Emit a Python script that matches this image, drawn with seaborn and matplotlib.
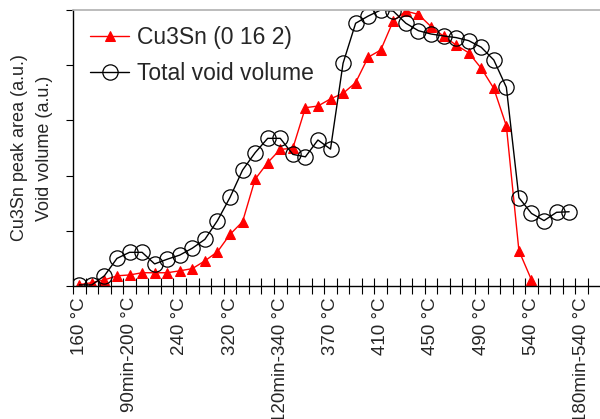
import numpy as np
import pandas as pd
import seaborn as sns
import matplotlib.pyplot as plt

# x axis: 41 temperature steps, only every 4th one is labelled
tick_labels = ["160 °C", "90min-200 °C", "240 °C", "320 °C", "120min-340 °C",
               "370 °C", "410 °C", "450 °C", "490 °C", "540 °C", "180min-540 °C"]
n_steps = 41

# Cu3Sn (0 16 2) peak area, normalised (a.u.)
cu3sn = [0.005, 0.012, 0.022, 0.037, 0.040, 0.048, 0.048, 0.048, 0.055, 0.063,
         0.091, 0.124, 0.187, 0.233, 0.387, 0.447, 0.495, 0.499, 0.646, 0.652,
         0.678, 0.698, 0.737, 0.829, 0.855, 0.961, 0.996, 0.984, 0.940, 0.905,
         0.873, 0.845, 0.789, 0.716, 0.580, 0.128, 0.022]

# total void volume, normalised (a.u.)
void_volume = [0.004, 0.004, 0.037, 0.100, 0.122, 0.122, 0.080, 0.097, 0.112, 0.137,
               0.169, 0.237, 0.321, 0.420, 0.483, 0.535, 0.535, 0.477, 0.468, 0.529,
               0.496, 0.807, 0.952, 0.978, 1.000, 0.996, 0.952, 0.925, 0.913, 0.906,
               0.900, 0.889, 0.865, 0.819, 0.720, 0.320, 0.263, 0.237, 0.267, 0.269]

sns.set_style("white")
plt.rcParams["font.family"] = ["Liberation Sans", "DejaVu Sans"]

fig = plt.figure(figsize=(6, 4.19), dpi=100)
ax = fig.add_axes([73 / 600, 1 - 286 / 419, 1 - 73 / 600, 276 / 419])

df_cu = pd.DataFrame({"step": np.arange(len(cu3sn)), "value": cu3sn})
df_void = pd.DataFrame({"step": np.arange(len(void_volume)), "value": void_volume})

sns.lineplot(data=df_cu, x="step", y="value", ax=ax, color="red", lw=1,
             marker="^", markersize=7, markeredgecolor="red",
             label="Cu3Sn (0 16 2)")
sns.lineplot(data=df_void, x="step", y="value", ax=ax, color="black", lw=1,
             marker="o", markersize=11, markerfacecolor="none",
             markeredgecolor="black", markeredgewidth=0.9,
             label="Total void volume")

ax.set_xlim(-0.5, -0.5 + 527 / (515 / n_steps))
ax.set_ylim(0, 1)

# ticks on category boundaries, labels on category centres
ax.set_xticks(np.arange(n_steps + 1) - 0.5)
ax.set_xticklabels([])
ax.set_xticks(np.arange(0, n_steps, 4), minor=True)
ax.set_xticklabels(tick_labels, minor=True, rotation=90, fontsize=13.5)
ax.tick_params(axis="x", which="major", direction="inout", length=12, width=0.8,
               bottom=True, color="black")
ax.tick_params(axis="x", which="minor", length=0, pad=8, bottom=True)

ax.set_yticks(np.linspace(0, 1, 6))
ax.set_yticklabels([])
ax.tick_params(axis="y", direction="out", length=5, width=0.8, left=True,
               color="black")

ax.set_xlabel("")
ax.set_ylabel("Cu3Sn peak area (a.u.)\nVoid volume (a.u.)", fontsize=13,
              linespacing=1.6, labelpad=6)

for side in ["left", "bottom"]:
    ax.spines[side].set_color("black")
    ax.spines[side].set_linewidth(1)
ax.spines["right"].set_visible(False)
ax.spines["top"].set_color("#b0b0b0")
ax.spines["top"].set_linewidth(1.2)

ax.legend(loc="upper left", bbox_to_anchor=(0.015, 0.975), frameon=False,
          borderaxespad=0, fontsize=16.5, handlelength=1.7, handletextpad=0.35,
          labelspacing=0.55)

fig.savefig("out.png", dpi=100)
